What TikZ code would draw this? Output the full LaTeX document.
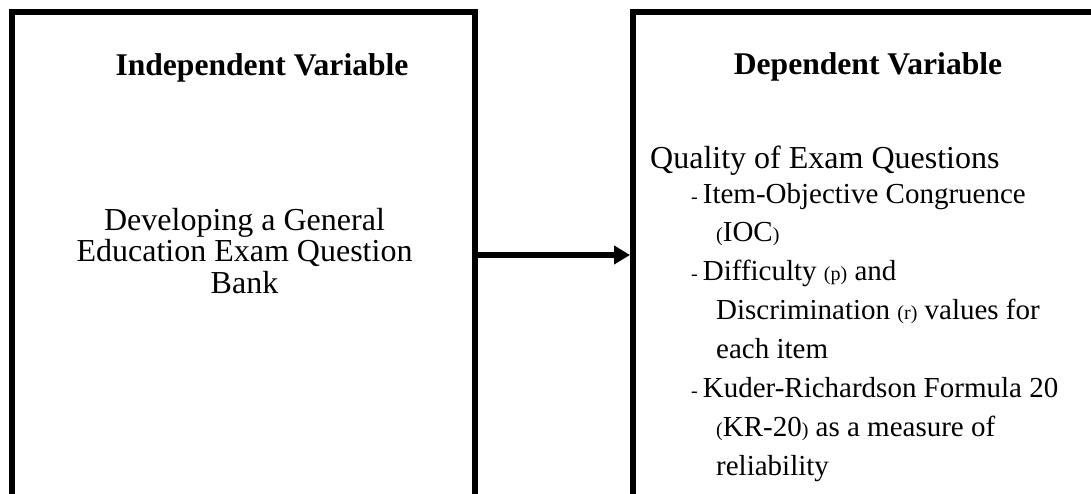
\documentclass[tikz,border=0pt]{standalone}
\usepackage{fontspec}
\setmainfont{Liberation Serif}
\usetikzlibrary{arrows.meta}
\newcommand{\smallpar}[1]{{\fontsize{20}{20}\selectfont #1}}
\newcommand{\mainline}[1]{{\fontsize{32}{39}\selectfont #1}}
\tikzset{
    varbox/.style={draw, line width=6pt, minimum height=486pt, inner sep=0pt},
    headtext/.style={font=\fontsize{31.6}{39}\selectfont\bfseries, inner sep=0pt},
    bodytext/.style={font=\fontsize{32}{31.5}\selectfont, inner sep=0pt},
    itemtext/.style={font=\fontsize{29}{39}\selectfont, inner sep=0pt},
    linkarrow/.style={-{Triangle[length=16pt,width=18pt]}, line width=6pt}
}
\begin{document}
\begin{tikzpicture}[x=1pt, y=-1pt]
    \useasboundingbox (0,0) rectangle (1091,494);
    \clip (0,0) rectangle (1091,494);
    % Draw boxes
    \coordinate (ca) at (243.5,255);
    \coordinate (cb) at (871.5,255);
    \node [varbox, minimum width=463pt] (indep) at (ca) {};
    \node [varbox, minimum width=477pt] (dep) at (cb) {};
    \draw [linkarrow] (indep) -- (dep);
    % Headings
    \node [headtext, anchor=base] (indephead) at (262,76) {Independent Variable};
    \node [headtext, anchor=base] (dephead) at (868,75) {Dependent Variable};
    % Box texts (base anchor sits on the last line)
    \node [bodytext, align=center, anchor=base] (indeptext) at (244.5,293)
        {Developing a General\\Education Exam Question\\Bank};
    \node [itemtext, align=left, anchor=base west] (deptext) at (650,475)
        {\mainline{Quality of Exam Questions}\\[-4pt]
        \hspace*{41pt}\smallpar{- }Item-Objective Congruence\\[-1pt]
        \hspace*{66pt}\smallpar{(}IOC\smallpar{)}\\
        \hspace*{41pt}\smallpar{- }Difficulty \smallpar{(p)} and\\
        \hspace*{66pt}Discrimination \smallpar{(r)} values for\\
        \hspace*{66pt}each item\\
        \hspace*{41pt}\smallpar{- }Kuder-Richardson Formula 20\\
        \hspace*{66pt}\smallpar{(}KR-20\smallpar{)} as a measure of\\
        \hspace*{66pt}reliability};
\end{tikzpicture}
\end{document}
